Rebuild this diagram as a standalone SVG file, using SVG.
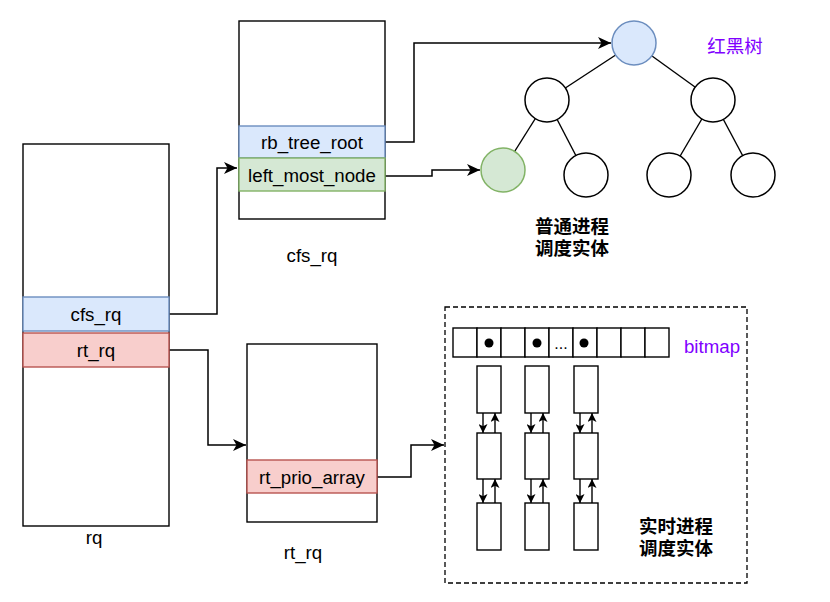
<svg xmlns="http://www.w3.org/2000/svg" width="830" height="602" viewBox="0 0 830 602">
<style>
.box{fill:#fff;stroke:#000;stroke-width:1.4}
.blue{fill:#dae8fc;stroke:#6c8ebf;stroke-width:1.4}
.green{fill:#d5e8d4;stroke:#82b366;stroke-width:1.4}
.red{fill:#f8cecc;stroke:#b85450;stroke-width:1.4}
.t{font-family:"Liberation Sans",Arial,sans-serif;font-size:18.7px;fill:#000;text-anchor:middle}
.cjk{font-family:"Liberation Sans","Noto Sans CJK SC",sans-serif;font-size:18.5px;text-anchor:middle}
.b{font-weight:bold;fill:#000}
.p{fill:#8000ff}
.c{fill:none;stroke:#000;stroke-width:1.5}
.sm{fill:none;stroke:#000;stroke-width:1.4}
.circ{fill:#fff;stroke:#000;stroke-width:1.5}
</style>
<defs>
<marker id="ah" markerUnits="userSpaceOnUse" markerWidth="14" markerHeight="12" refX="13" refY="6" orient="auto">
<path d="M0,0 L13,6 L0,12 L3.5,6 z" fill="#000"/>
</marker>
<marker id="as" markerUnits="userSpaceOnUse" markerWidth="9" markerHeight="9" refX="9" refY="4.5" orient="auto">
<path d="M0,0 L9,4.5 L0,9 L2.2,4.5 z" fill="#000"/>
</marker>
</defs>

<g id="connectors">
<path class="c" d="M169,314 H217 V168 H237" marker-end="url(#ah)"/>
<path class="c" d="M385,142 H414 V43 H611" marker-end="url(#ah)"/>
<path class="c" d="M385,176 H432 V170 H480" marker-end="url(#ah)"/>
<path class="c" d="M169,350 H208 V445 H246" marker-end="url(#ah)"/>
<path class="c" d="M377,477 H411 V445 H444" marker-end="url(#ah)"/>
<g id="tree-edges">
<line class="sm" x1="634" y1="43" x2="547" y2="100"/>
<line class="sm" x1="634" y1="43" x2="713" y2="100"/>
<line class="sm" x1="547" y1="100" x2="503" y2="170"/>
<line class="sm" x1="547" y1="100" x2="586" y2="175"/>
<line class="sm" x1="713" y1="100" x2="669" y2="175"/>
<line class="sm" x1="713" y1="100" x2="753" y2="175"/>
</g>
<g id="list-arrows">
<path class="sm" d="M483,413 V433" marker-end="url(#as)"/>
<path class="sm" d="M495,433 V413" marker-end="url(#as)"/>
<path class="sm" d="M483,479 V503" marker-end="url(#as)"/>
<path class="sm" d="M495,503 V479" marker-end="url(#as)"/>
<path class="sm" d="M531,413 V433" marker-end="url(#as)"/>
<path class="sm" d="M543,433 V413" marker-end="url(#as)"/>
<path class="sm" d="M531,479 V503" marker-end="url(#as)"/>
<path class="sm" d="M543,503 V479" marker-end="url(#as)"/>
<path class="sm" d="M580,413 V433" marker-end="url(#as)"/>
<path class="sm" d="M592,433 V413" marker-end="url(#as)"/>
<path class="sm" d="M580,479 V503" marker-end="url(#as)"/>
<path class="sm" d="M592,503 V479" marker-end="url(#as)"/>
</g>
</g>

<g id="rq">
<rect class="box" x="23" y="144" width="146" height="382"/>
<rect class="blue" x="23" y="297" width="146" height="34"/>
<text class="t" x="96" y="321">cfs_rq</text>
<rect class="red" x="23" y="333" width="146" height="34"/>
<text class="t" x="96" y="357">rt_rq</text>
<text class="t" x="94" y="544">rq</text>
</g>

<g id="cfs_rq">
<rect class="box" x="239" y="21" width="146" height="198"/>
<rect class="blue" x="239" y="126" width="146" height="32"/>
<text class="t" x="312" y="149">rb_tree_root</text>
<rect class="green" x="239" y="158" width="146" height="33"/>
<text class="t" x="312" y="182">left_most_node</text>
<text class="t" x="312" y="262">cfs_rq</text>
</g>

<g id="rt_rq">
<rect class="box" x="247" y="344" width="130" height="178"/>
<rect class="red" x="247" y="460" width="130" height="33"/>
<text class="t" x="312" y="484">rt_prio_array</text>
<text class="t" x="303" y="559">rt_rq</text>
</g>

<g id="rbtree">
<circle cx="634" cy="43" r="22" fill="#dae8fc" stroke="#6c8ebf" stroke-width="1.5"/>
<circle class="circ" cx="547" cy="100" r="22"/>
<circle class="circ" cx="713" cy="100" r="22"/>
<circle cx="503" cy="170" r="22" fill="#d5e8d4" stroke="#82b366" stroke-width="1.5"/>
<circle class="circ" cx="586" cy="175" r="22"/>
<circle class="circ" cx="669" cy="175" r="22"/>
<circle class="circ" cx="753" cy="175" r="22"/>
<text class="cjk p" x="735" y="53">红黑树</text>
<text class="cjk b" x="572" y="233">普通进程</text>
<text class="cjk b" x="572" y="255">调度实体</text>
</g>

<g id="rt_entities">
<rect x="445" y="307" width="302" height="276" fill="none" stroke="#000" stroke-width="1.3" stroke-dasharray="5 3"/>
<g id="bitmap">
<rect class="box" x="453" y="328" width="24" height="29"/>
<rect class="box" x="477" y="328" width="24" height="29"/>
<rect class="box" x="501" y="328" width="24" height="29"/>
<rect class="box" x="525" y="328" width="24" height="29"/>
<rect class="box" x="549" y="328" width="24" height="29"/>
<rect class="box" x="573" y="328" width="24" height="29"/>
<rect class="box" x="597" y="328" width="24" height="29"/>
<rect class="box" x="621" y="328" width="24" height="29"/>
<rect class="box" x="645" y="328" width="24" height="29"/>
<circle cx="489" cy="343" r="4.5" fill="#000"/>
<circle cx="537" cy="343" r="4.5" fill="#000"/>
<circle cx="584" cy="343" r="4.5" fill="#000"/>
<text class="t" x="561" y="349" style="font-size:16px">...</text>
<text class="t p" x="712" y="353">bitmap</text>
</g>
<g id="lists">
<rect class="box" x="477" y="366" width="24" height="47"/>
<rect class="box" x="477" y="433" width="24" height="46"/>
<rect class="box" x="477" y="503" width="24" height="47"/>
<rect class="box" x="525" y="366" width="24" height="47"/>
<rect class="box" x="525" y="433" width="24" height="46"/>
<rect class="box" x="525" y="503" width="24" height="47"/>
<rect class="box" x="574" y="366" width="24" height="47"/>
<rect class="box" x="574" y="433" width="24" height="46"/>
<rect class="box" x="574" y="503" width="24" height="47"/>
</g>
<text class="cjk b" x="676" y="533">实时进程</text>
<text class="cjk b" x="676" y="555">调度实体</text>
</g>
</svg>
